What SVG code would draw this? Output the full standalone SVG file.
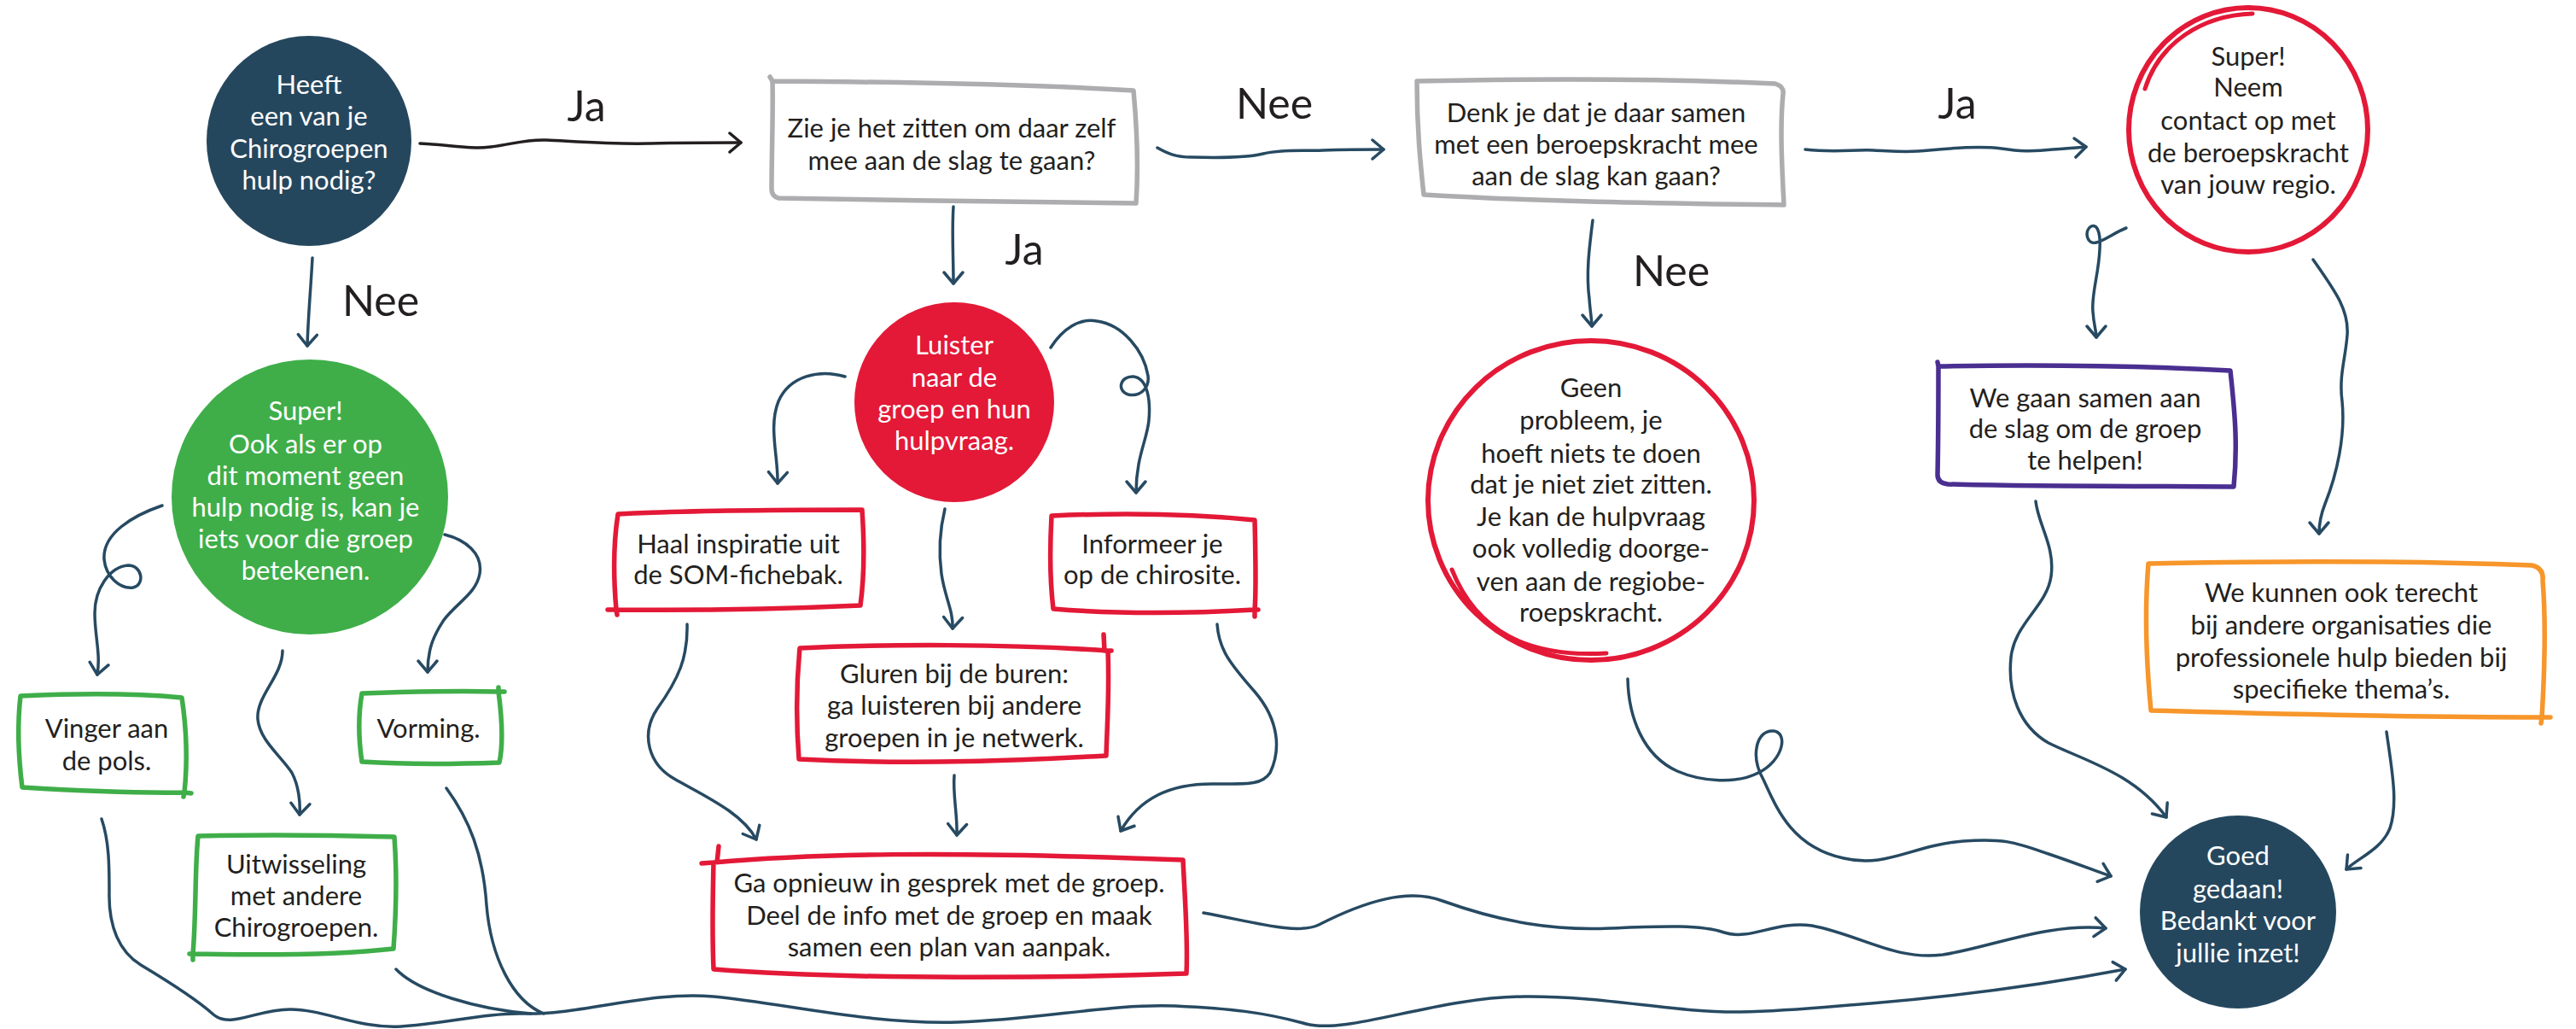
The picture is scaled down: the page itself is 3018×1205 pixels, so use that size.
<svg xmlns="http://www.w3.org/2000/svg" width="3018" height="1205" viewBox="0 0 3018 1205">
<style>
.t{font-family:Lato,"Open Sans","Noto Sans",sans-serif;font-size:31px;fill:#231f20;text-anchor:middle}
.w{fill:#ffffff}
.lbl{font-size:50px}
.c{fill:none;stroke:#274a62;stroke-width:3.5;stroke-linecap:round;stroke-linejoin:round}
.k{stroke:#231f20}
.box{fill:#ffffff;stroke-width:5.5;stroke-linecap:round;stroke-linejoin:round}
.gray{stroke:#adadb0}
.red{stroke:#e31937}
.grn{stroke:#3fae49}
.pur{stroke:#4a2f91}
.org{stroke:#f7962b}
.ring{fill:#ffffff;stroke:#e31937;stroke-width:6}
.arc{fill:none;stroke:#e31937;stroke-width:5;stroke-linecap:round}
</style>
<defs>
<marker id="ah" viewBox="-16 -13 20 26" refX="0" refY="0" markerWidth="20" markerHeight="26" orient="auto" markerUnits="userSpaceOnUse">
<path d="M-13,-11 L0,0 L-13,11" fill="none" stroke="#274a62" stroke-width="3.5" stroke-linecap="round" stroke-linejoin="round"/>
</marker>
<marker id="ahk" viewBox="-16 -13 20 26" refX="0" refY="0" markerWidth="20" markerHeight="26" orient="auto" markerUnits="userSpaceOnUse">
<path d="M-13,-11 L0,0 L-13,11" fill="none" stroke="#231f20" stroke-width="3.5" stroke-linecap="round" stroke-linejoin="round"/>
</marker>
</defs>

<g id="connectors">
<path class="c k" marker-end="url(#ahk)" d="M492,168 C530,170 550,175 575,172 C600,169 615,163 640,164 C680,166 720,169 760,168 C800,167 840,167 868,167"/>
<path class="c" marker-end="url(#ah)" d="M366,302 C364,340 361,370 360,405"/>
<path class="c" marker-end="url(#ah)" d="M1356,173 C1368,180 1378,184 1395,184 C1430,185 1460,185 1480,180 C1500,175 1520,177 1550,176 C1580,175 1600,175 1621,175"/>
<path class="c" marker-end="url(#ah)" d="M1117,242 C1115,270 1117,300 1117,332"/>
<path class="c" marker-end="url(#ah)" d="M1866,258 C1862,290 1858,320 1862,350 C1863,365 1865,375 1865,382"/>
<path class="c" marker-end="url(#ah)" d="M2115,175 C2150,179 2170,175 2195,176 C2220,177 2235,179 2260,176 C2290,173 2320,171 2345,174 C2365,177 2380,178 2405,175 C2420,174 2432,173 2444,172"/>
<path class="c" marker-end="url(#ah)" d="M2491,267 C2478,272 2465,282 2456,284 C2445,287 2441,270 2450,265 C2459,261 2461,278 2460,292 C2459,320 2450,345 2452,365 C2453,380 2456,388 2456,395"/>
<path class="c" marker-end="url(#ah)" d="M2710,304 C2735,340 2752,362 2750,392 C2748,420 2740,440 2744,470 C2748,510 2738,555 2724,590 C2718,605 2717,615 2717,625"/>
<path class="c" marker-end="url(#ah)" d="M190,592 C155,604 120,625 122,655 C124,675 140,690 156,688 C170,685 167,662 150,662 C128,664 111,690 111,718 C111,745 118,765 114,790"/>
<path class="c" marker-end="url(#ah)" d="M331,762 C331,792 300,815 302,842 C304,867 330,886 342,905 C350,920 352,940 351,954"/>
<path class="c" marker-end="url(#ah)" d="M521,626 C545,632 566,648 562,672 C558,695 535,706 520,726 C508,744 501,760 501,787"/>
<path class="c" d="M119,959 C128,985 128,1015 128,1045 C127,1085 140,1115 165,1130 C195,1148 230,1170 250,1188 C270,1205 300,1182 340,1182 C380,1182 420,1205 470,1202 C520,1199 570,1186 612,1187 C680,1189 760,1160 836,1167 C920,1175 1020,1200 1122,1197 C1220,1194 1300,1175 1377,1178 C1440,1181 1480,1185 1530,1199 C1580,1212 1680,1168 1786,1167 C1880,1166 1960,1186 2039,1185 C2100,1184 2150,1178 2192,1175 C2300,1166 2400,1152 2490,1135" marker-end="url(#ah)"/>
<path class="c" d="M464,1135 C490,1162 560,1182 622,1187"/>
<path class="c" d="M523,923 C550,960 566,1000 570,1060 C575,1120 600,1172 637,1187"/>
<path class="c" marker-end="url(#ah)" d="M990,441 C960,432 925,440 912,470 C900,500 912,535 911,566"/>
<path class="c" marker-end="url(#ah)" d="M1231,407 C1245,385 1265,372 1285,376 C1315,380 1340,410 1345,440 C1347,455 1335,465 1322,462 C1308,458 1312,440 1328,441 C1345,443 1348,470 1346,492 C1344,515 1331,535 1331,577"/>
<path class="c" marker-end="url(#ah)" d="M1107,596 C1100,625 1100,650 1103,672 C1107,700 1117,715 1116,736"/>
<path class="c" marker-end="url(#ah)" d="M805,731 C806,770 795,795 770,830 C750,860 760,895 790,912 C825,932 870,952 886,983"/>
<path class="c" marker-end="url(#ah)" d="M1426,731 C1428,760 1440,776 1470,810 C1500,845 1500,880 1488,905 C1478,920 1460,918 1420,918 C1370,918 1335,935 1313,973"/>
<path class="c" marker-end="url(#ah)" d="M1118,908 C1116,930 1122,955 1121,978"/>
<path class="c" marker-end="url(#ah)" d="M1410,1069 C1470,1080 1520,1095 1545,1083 C1600,1055 1650,1040 1690,1055 C1760,1080 1820,1090 1886,1087 C1940,1085 1990,1082 2020,1092 C2050,1102 2080,1078 2123,1084 C2180,1095 2220,1125 2276,1118 C2330,1110 2400,1080 2467,1087"/>
<path class="c" marker-end="url(#ah)" d="M1907,795 C1908,840 1925,885 1965,903 C1995,916 2035,918 2060,905 C2090,890 2095,858 2078,856 C2058,854 2050,885 2066,913 C2082,948 2100,992 2160,1005 C2210,1017 2240,990 2300,985 C2350,981 2365,988 2400,1000 C2430,1010 2455,1020 2473,1026"/>
<path class="c" marker-end="url(#ah)" d="M2385,587 C2388,615 2408,640 2403,675 C2398,710 2360,730 2356,770 C2352,810 2365,850 2400,870 C2440,890 2500,905 2538,957"/>
<path class="c" marker-end="url(#ah)" d="M2796,857 C2802,900 2810,940 2800,970 C2790,995 2762,1005 2749,1018"/>
</g>

<g id="labels">
<text class="t lbl" x="687" y="142">Ja</text>
<text class="t lbl" x="446" y="370">Nee</text>
<text class="t lbl" x="1493" y="139">Nee</text>
<text class="t lbl" x="1200" y="310">Ja</text>
<text class="t lbl" x="1958" y="335">Nee</text>
<text class="t lbl" x="2293" y="139">Ja</text>
</g>

<g id="n-start">
<ellipse cx="362" cy="165" rx="120" ry="123" fill="#25475e"/>
<text class="t w"><tspan x="362" y="110">Heeft</tspan><tspan x="362" y="147">een van je</tspan><tspan x="362" y="185">Chirogroepen</tspan><tspan x="362" y="222">hulp nodig?</tspan></text>
</g>

<g id="n-zelf">
<path class="box gray" d="M902,90 L905,95 C1050,96 1200,98 1328,106 C1332,150 1334,195 1331,238 C1200,236 1050,235 912,232 C906,230 904,226 904,222 C904,180 906,130 905,95"/>
<text class="t"><tspan x="1115" y="161">Zie je het zitten om daar zelf</tspan><tspan x="1115" y="199">mee aan de slag te gaan?</tspan></text>
</g>

<g id="n-samen">
<path class="box gray" d="M1660,95 C1800,92 1950,92 2080,98 C2086,100 2090,104 2089,110 C2085,150 2088,200 2090,240 C1950,238 1800,236 1668,228 C1664,190 1660,150 1660,95 Z"/>
<text class="t"><tspan x="1870" y="143">Denk je dat je daar samen</tspan><tspan x="1870" y="180">met een beroepskracht mee</tspan><tspan x="1870" y="217">aan de slag kan gaan?</tspan></text>
</g>

<g id="n-contact">
<ellipse class="ring" cx="2634" cy="152" rx="140" ry="143"/>
<path class="arc" d="M2639,16 C2580,18 2530,50 2513,104"/>
<text class="t"><tspan x="2634" y="77">Super!</tspan><tspan x="2634" y="113">Neem</tspan><tspan x="2634" y="152">contact op met</tspan><tspan x="2634" y="190">de beroepskracht</tspan><tspan x="2634" y="227">van jouw regio.</tspan></text>
</g>

<g id="n-luister">
<ellipse cx="1118" cy="471" rx="117" ry="117" fill="#e31937"/>
<text class="t w"><tspan x="1118" y="415">Luister</tspan><tspan x="1118" y="453">naar de</tspan><tspan x="1118" y="490">groep en hun</tspan><tspan x="1118" y="527">hulpvraag.</tspan></text>
</g>

<g id="n-geen">
<ellipse class="ring" cx="1864" cy="586" rx="191" ry="187"/>
<path class="arc" d="M1701,667 C1730,740 1790,770 1882,765"/>
<text class="t"><tspan x="1864" y="465">Geen</tspan><tspan x="1864" y="503">probleem, je</tspan><tspan x="1864" y="542">hoeft niets te doen</tspan><tspan x="1864" y="578">dat je niet ziet zitten.</tspan><tspan x="1864" y="616">Je kan de hulpvraag</tspan><tspan x="1864" y="653">ook volledig doorge-</tspan><tspan x="1864" y="692">ven aan de regiobe-</tspan><tspan x="1864" y="728">roepskracht.</tspan></text>
</g>

<g id="n-helpen">
<path class="box pur" d="M2270,424 L2271,429 C2380,427 2500,428 2613,434 C2618,480 2622,520 2617,570 C2500,569 2380,570 2282,567 C2274,566 2270,562 2270,556 C2271,510 2271,470 2271,429"/>
<text class="t"><tspan x="2443" y="477">We gaan samen aan</tspan><tspan x="2443" y="513">de slag om de groep</tspan><tspan x="2443" y="550">te helpen!</tspan></text>
</g>

<g id="n-organisaties">
<path class="box org" d="M2517,660 C2650,657 2800,656 2966,662 C2976,664 2980,670 2979,680 C2983,730 2981,790 2978,840 C2820,840 2660,836 2520,832 C2515,780 2512,720 2517,660 Z M2978,840 L2988,840 M2978,840 L2977,847"/>
<text class="t"><tspan x="2743" y="705">We kunnen ook terecht</tspan><tspan x="2743" y="743">bij andere organisaties die</tspan><tspan x="2743" y="781">professionele hulp bieden bij</tspan><tspan x="2743" y="818">specifieke thema’s.</tspan></text>
</g>

<g id="n-goed">
<ellipse cx="2622" cy="1068" rx="115" ry="113" fill="#25475e"/>
<text class="t w"><tspan x="2622" y="1013">Goed</tspan><tspan x="2622" y="1052">gedaan!</tspan><tspan x="2622" y="1089">Bedankt voor</tspan><tspan x="2622" y="1127">jullie inzet!</tspan></text>
</g>

<g id="n-super">
<ellipse cx="363" cy="582" rx="162" ry="161" fill="#3fae49"/>
<text class="t w"><tspan x="358" y="492">Super!</tspan><tspan x="358" y="531">Ook als er op</tspan><tspan x="358" y="568">dit moment geen</tspan><tspan x="358" y="605">hulp nodig is, kan je</tspan><tspan x="358" y="642">iets voor die groep</tspan><tspan x="358" y="679">betekenen.</tspan></text>
</g>

<g id="n-vinger">
<path class="box grn" d="M24,815 C90,812 160,812 213,817 C218,850 220,890 216,928 C150,929 90,926 26,922 C22,890 20,850 24,815 Z M216,928 L224,929 M216,928 L215,933"/>
<text class="t"><tspan x="125" y="864">Vinger aan</tspan><tspan x="125" y="902">de pols.</tspan></text>
</g>

<g id="n-vorming">
<path class="box grn" d="M424,812 C480,810 540,809 584,810 C588,840 590,870 585,893 C530,895 470,895 424,892 C420,865 420,835 424,812 Z M584,810 L591,810 M584,810 L584,805"/>
<text class="t"><tspan x="502" y="864">Vorming.</tspan></text>
</g>

<g id="n-uitwisseling">
<path class="box grn" d="M232,979 C310,977 390,978 462,980 C465,1020 464,1070 461,1111 C400,1118 320,1119 226,1117 C230,1070 228,1020 232,979 Z M226,1117 L222,1117 M226,1117 L226,1124"/>
<text class="t"><tspan x="347" y="1023">Uitwisseling</tspan><tspan x="347" y="1060">met andere</tspan><tspan x="347" y="1097">Chirogroepen.</tspan></text>
</g>

<g id="n-haal">
<path class="box red" d="M724,602 C800,598 900,597 1010,597 C1013,640 1012,680 1008,709 C920,713 820,715 722,714 C719,680 718,640 724,602 Z M722,714 L712,714 M722,714 L723,720"/>
<text class="t"><tspan x="865" y="648">Haal inspiratie uit</tspan><tspan x="865" y="684">de SOM-fichebak.</tspan></text>
</g>

<g id="n-informeer">
<path class="box red" d="M1232,604 C1300,601 1380,600 1470,609 C1471,650 1472,690 1470,714 C1400,718 1320,720 1234,713 C1230,680 1230,640 1232,604 Z M1470,714 L1474,714 M1470,714 L1470,722"/>
<text class="t"><tspan x="1350" y="648">Informeer je</tspan><tspan x="1350" y="684">op de chirosite.</tspan></text>
</g>

<g id="n-gluren">
<path class="box red" d="M937,759 C1040,754 1180,754 1298,762 C1300,810 1297,850 1296,885 C1200,890 1080,896 936,889 C933,850 933,800 937,759 Z M1298,762 L1302,762 M1294,762 L1293,743"/>
<text class="t"><tspan x="1118" y="800">Gluren bij de buren:</tspan><tspan x="1118" y="837">ga luisteren bij andere</tspan><tspan x="1118" y="875">groepen in je netwerk.</tspan></text>
</g>

<g id="n-opnieuw">
<path class="box red" d="M836,1010 C950,1000 1100,996 1386,1007 C1388,1050 1392,1100 1390,1140 C1250,1145 1000,1148 836,1135 C834,1090 835,1050 836,1010 Z M836,1010 L822,1011 M840,1010 L842,991"/>
<text class="t"><tspan x="1112" y="1045">Ga opnieuw in gesprek met de groep.</tspan><tspan x="1112" y="1083">Deel de info met de groep en maak</tspan><tspan x="1112" y="1120">samen een plan van aanpak.</tspan></text>
</g>
</svg>
